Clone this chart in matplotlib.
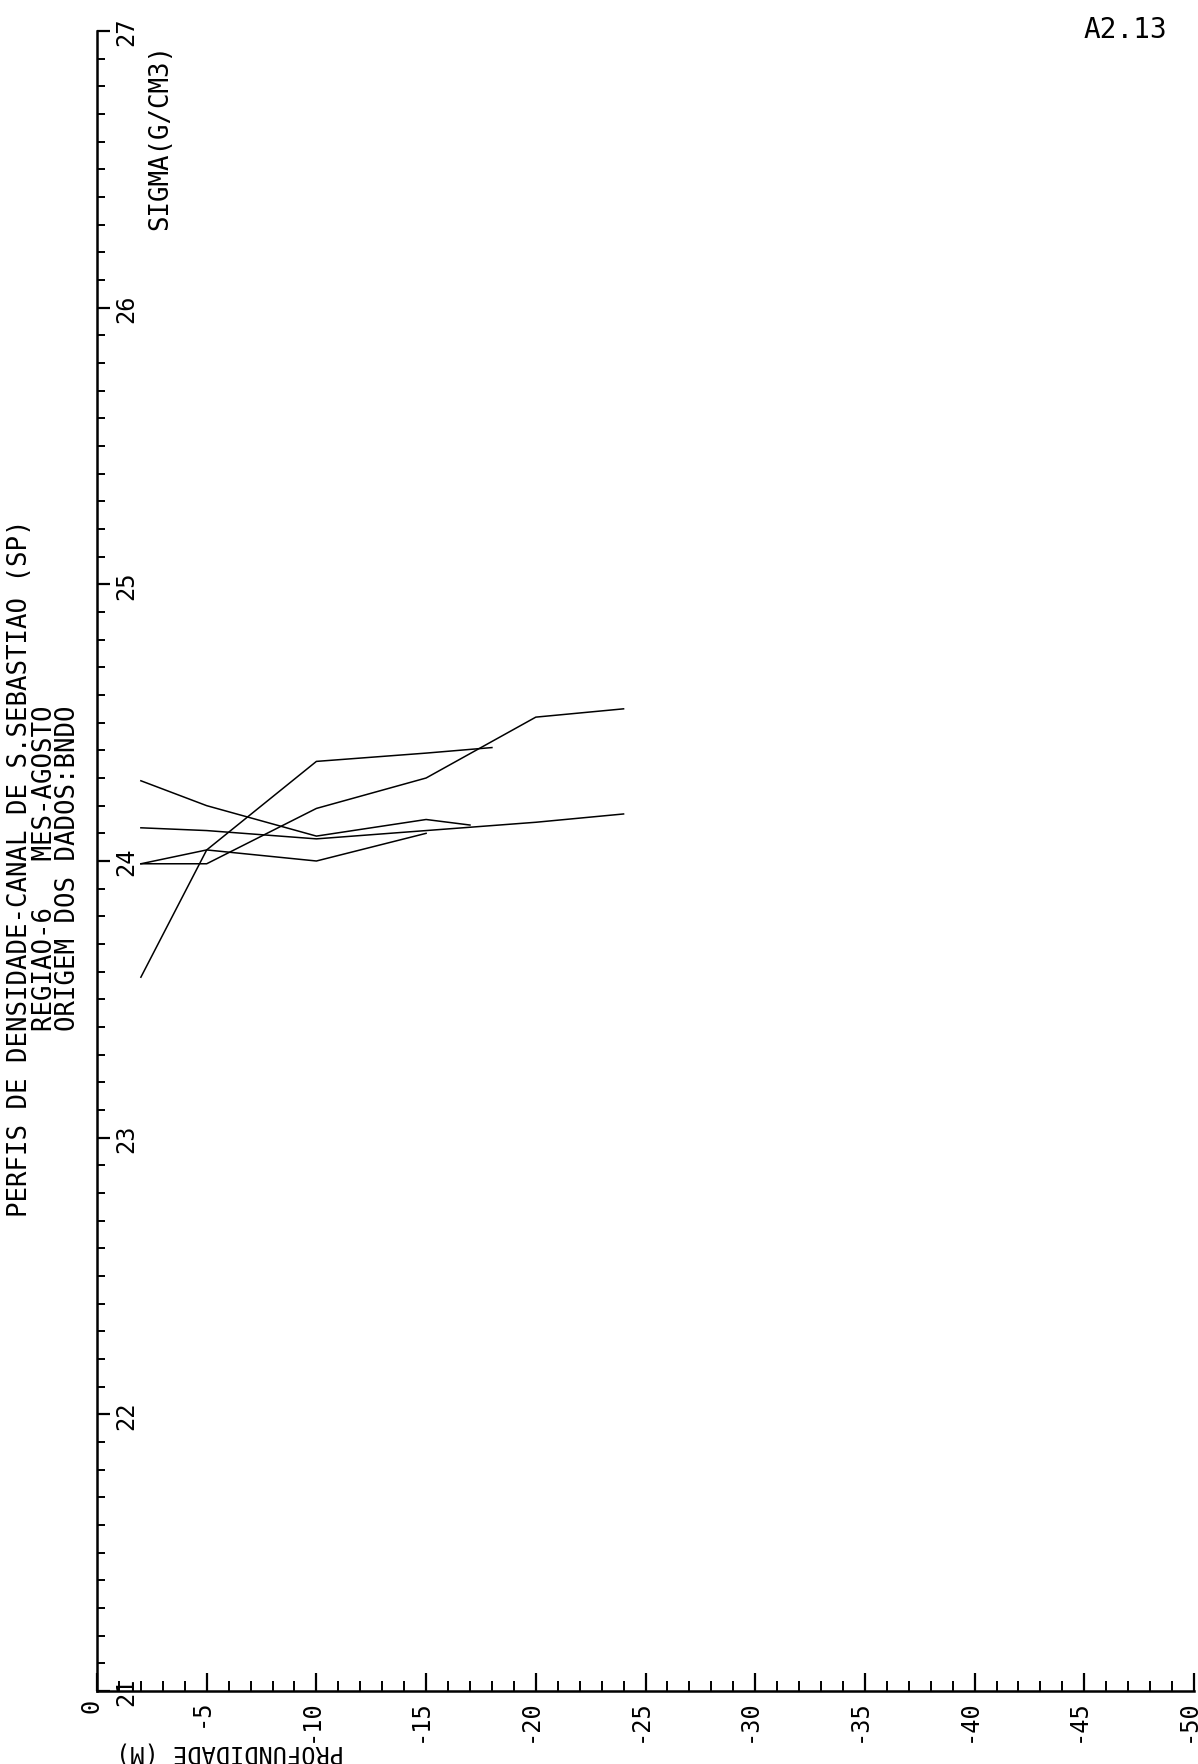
import matplotlib.pyplot as plt
import matplotlib.transforms as mtransforms
from matplotlib.ticker import MultipleLocator

plt.rcParams['font.family'] = ['DejaVu Sans Mono', 'DejaVu Sans']

# perfis de densidade (profundidade em m, sigma-t)
prof_a = [-2, -5, -10, -15, -18]
sigma_a = [23.58, 24.04, 24.36, 24.39, 24.41]

prof_b = [-2, -5, -10, -15, -20, -24]
sigma_b = [23.99, 23.99, 24.19, 24.30, 24.52, 24.55]

prof_c = [-2, -5, -10, -15, -17]
sigma_c = [24.29, 24.20, 24.09, 24.15, 24.13]

prof_d = [-2, -5, -10, -15, -20, -24]
sigma_d = [24.12, 24.11, 24.08, 24.11, 24.14, 24.17]

prof_e = [-2, -5, -10, -15]
sigma_e = [23.99, 24.04, 24.00, 24.10]

prof_ticks = [0, -5, -10, -15, -20, -25, -30, -35, -40, -45, -50]
prof_labels = ['0', '-5', '-10', '-15', '-20', '-25', '-30', '-35', '-40', '-45', '-50']
sigma_ticks = [21, 22, 23, 24, 25, 26, 27]
sigma_labels = ['21', '22', '23', '24', '25', '26', '27']

W, H = 1198, 1765
FS = 18.5
FS_TICK = 17

fig = plt.figure(figsize=(W / 100, H / 100), dpi=100)
ax = fig.add_axes([97 / W, 1 - 1692 / H, (1194 - 97) / W, (1692 - 32) / H])

for p, s in [(prof_a, sigma_a), (prof_b, sigma_b), (prof_c, sigma_c),
             (prof_d, sigma_d), (prof_e, sigma_e)]:
    ax.plot(p, s, color='black', lw=1.1)

ax.set_xlim(0, -50)
ax.set_ylim(21, 27)
ax.spines['top'].set_visible(False)
ax.spines['right'].set_visible(False)
ax.spines['left'].set_linewidth(1.8)
ax.spines['bottom'].set_linewidth(1.8)

ax.set_xticks(prof_ticks)
ax.xaxis.set_minor_locator(MultipleLocator(1))
ax.set_yticks(sigma_ticks)
ax.yaxis.set_minor_locator(MultipleLocator(0.1))
ax.tick_params(which='both', direction='in', labelbottom=False, labelleft=False,
               top=False, right=False, color='black')
ax.tick_params(axis='x', which='major', length=13, width=1.6)
ax.tick_params(axis='x', which='minor', length=7, width=1.4)
ax.tick_params(axis='y', which='major', length=9.5, width=1.6)
ax.tick_params(axis='y', which='minor', length=5.5, width=1.4)

# rotulos dos eixos, girados como no original
xlab_tr = ax.get_xaxis_transform() + mtransforms.ScaledTranslation(-6 / 100, -7 / 100, fig.dpi_scale_trans)
for v, lab in zip(prof_ticks, prof_labels):
    ax.text(v, 0, lab, transform=xlab_tr, rotation=90, ha='center', va='top', fontsize=FS_TICK)

ylab_tr = ax.get_yaxis_transform() + mtransforms.ScaledTranslation(29 / 100, 0, fig.dpi_scale_trans)
for v, lab in zip(sigma_ticks, sigma_labels):
    ax.text(0, v, lab, transform=ylab_tr, rotation=90, ha='center', va='center', fontsize=FS_TICK)

def px(x, y):
    return x / W, 1 - y / H

fig.text(*px(20, 868), 'PERFIS DE DENSIDADE-CANAL DE S.SEBASTIAO (SP)', rotation=90,
         ha='center', va='center', fontsize=FS)
fig.text(*px(45, 868), 'REGIAO-6   MES-AGOSTO', rotation=90, ha='center', va='center', fontsize=FS)
fig.text(*px(68, 868), 'ORIGEM DOS DADOS:BNDO', rotation=90, ha='center', va='center', fontsize=FS)
fig.text(*px(160, 137), 'SIGMA(G/CM3)', rotation=90, ha='center', va='center', fontsize=FS)
fig.text(*px(230, 1753), 'PROFUNDIDADE (M)', rotation=180, ha='center', va='center', fontsize=FS_TICK)
fig.text(*px(1125, 30), 'A2.13', ha='center', va='center', fontsize=20)

fig.savefig('out.png', dpi=100)
